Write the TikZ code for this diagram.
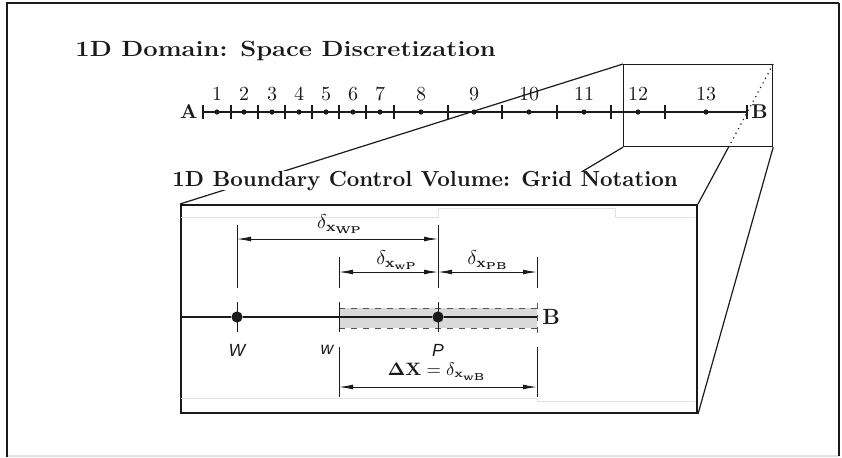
\documentclass[tikz,border=0pt]{standalone}
\usepackage{amsmath}
\usepackage[no-math]{fontspec}
\newfontfamily\labelsf{Liberation Sans}
\usetikzlibrary{arrows.meta,calc,positioning}
\definecolor{bandfill}{HTML}{D9D9D9}
\definecolor{ghost}{HTML}{E2E2E2}
\definecolor{ink}{HTML}{1A1A1A}

\begin{document}
\begin{tikzpicture}[x=0.5pt,y=-0.5pt, line join=miter, draw=ink, text=ink,
  dot/.style={circle, fill=ink, inner sep=0pt, minimum size=2.6pt},
  bigdot/.style={circle, fill=ink, inner sep=0pt, minimum size=5.6pt},
  guide/.style={line width=0.45pt},
  dim/.style={{Latex[length=7pt,width=2.4pt]}-{Latex[length=7pt,width=2.4pt]}, line width=0.45pt},
  ptlabel/.style={font=\labelsf\itshape\fontsize{8.8}{10}\selectfont, inner sep=0pt},
  endlabel/.style={font=\bfseries, inner sep=0pt, anchor=west},
  heading/.style={inner sep=0pt, anchor=base west, fill=white}]
  \useasboundingbox (0,0) rectangle (842,457);
  \draw[ghost, line width=0.6pt] (6.5,456) -- (839,456);
  \draw[line width=1pt] (6.5,457) -- (6.5,3.3) -- (839,3.3);
  \draw[line width=0.7pt] (839,3.3) -- (839,456);

  \node[heading, xscale=1.16, font=\bfseries\fontsize{11}{13}\selectfont] (dom) at (75,56) {1D Domain: Space Discretization};

  \coordinate (a0) at (203,112);
  \coordinate (a1) at (747,112);
  \node[endlabel, anchor=east] (A) at (198,112) {A};
  \draw[line width=0.6pt] (a0) -- (a1);
  \foreach \x in {203,231,258,285,312,339,366,394,448,502,557,611,665,747}
    \draw[line width=0.6pt] (\x,105) -- (\x,119);
  \foreach \x [count=\i] in {217,244,272,299,326,353,380,421,474,529,584,638,706}
    \node[dot, label={[inner sep=1pt, label distance=3pt]above:\i}] (n\i) at (\x,112) {};
  \node[endlabel] (B) at (751,112) {B};

  \node[draw, line width=0.6pt, inner sep=0pt, minimum width=74.5pt, minimum height=41pt, anchor=north west] (zoom) at (623,64) {};
  \node[draw, line width=1pt, inner sep=0pt, minimum width=258pt, minimum height=104pt, anchor=north west] (cv) at (180,204) {};

  \coordinate (cut) at ($(zoom.north east)!0.586!(cv.north east)$);
  \coordinate (gridtop) at (573,177);
  \draw[line width=0.6pt] (zoom.north west) -- (cv.north west);
  \draw[line width=0.6pt] (zoom.south west) -- (gridtop);
  \draw[line width=0.6pt, dotted] (zoom.north east) -- (cut);
  \draw[line width=0.6pt] (cut) -- (cv.north east);
  \draw[line width=0.6pt] (zoom.south east) -- (cv.south east);

  \node[heading, font=\bfseries\fontsize{10.9}{12}\selectfont] (cvtitle) at (172,186) {1D Boundary Control Volume: Grid Notation};

  \draw[ghost, line width=0.5pt] (181,217) -- (438,217) -- (438,208) -- (615,208) -- (615,217) -- (695,217);
  \draw[ghost, line width=0.5pt] (181,398) -- (537,398) -- (537,401) -- (695,401);

  \fill[bandfill] (339,308) rectangle (537,328);
  \draw[dashed, line width=0.5pt, ink!75] (339,308) -- (537,308) (339,328) -- (537,328) (537,303) -- (537,333);

  \coordinate (cvleft) at (180,317);
  \coordinate (wf) at (339,317);
  \coordinate (Bf) at (537,317);
  \node[bigdot] (W) at (237,317) {};
  \node[bigdot] (P) at (438,317) {};
  \draw[line width=0.9pt] (cvleft) -- (W) -- (P) -- (Bf);
  \node[endlabel, font=\bfseries\fontsize{11}{13}\selectfont] (Bcv) at (542,317) {B};

  \foreach \x/\a/\b in {237/225/288, 237/302/332, 339/257/288, 339/302/332, 339/347/397,
                        438/225/288, 438/302/332, 537/257/288, 537/347/397}
    \draw[guide] (\x,\a) -- (\x,\b);

  \coordinate (r1) at (0,239);
  \coordinate (r2) at (0,272);
  \coordinate (r3) at (0,387);
  \draw[dim] (W |- r1) -- (P |- r1);
  \draw[dim] (wf |- r2) -- (P |- r2);
  \draw[dim] (P |- r2) -- (Bf |- r2);
  \draw[dim] (wf |- r3) -- (Bf |- r3);

  \node (lWP) at (340,224) {$\delta_{\mathbf{x}_{\mathbf{WP}}}$};
  \node (lwP) at (397,260) {$\delta_{\mathbf{x}_{\mathbf{wP}}}$};
  \node (lPB) at (488,260) {$\delta_{\mathbf{x}_{\mathbf{PB}}}$};
  \node[font=\small] (ldx) at (437,372) {$\mathbf{\Delta X}=\delta_{\mathbf{x}_{\mathbf{wB}}}$};

  \node[ptlabel] (lW) at (237,350) {W};
  \node[ptlabel] (lw) at (327,350) {w};
  \node[ptlabel] (lP) at (438,350) {P};
\end{tikzpicture}
\end{document}
